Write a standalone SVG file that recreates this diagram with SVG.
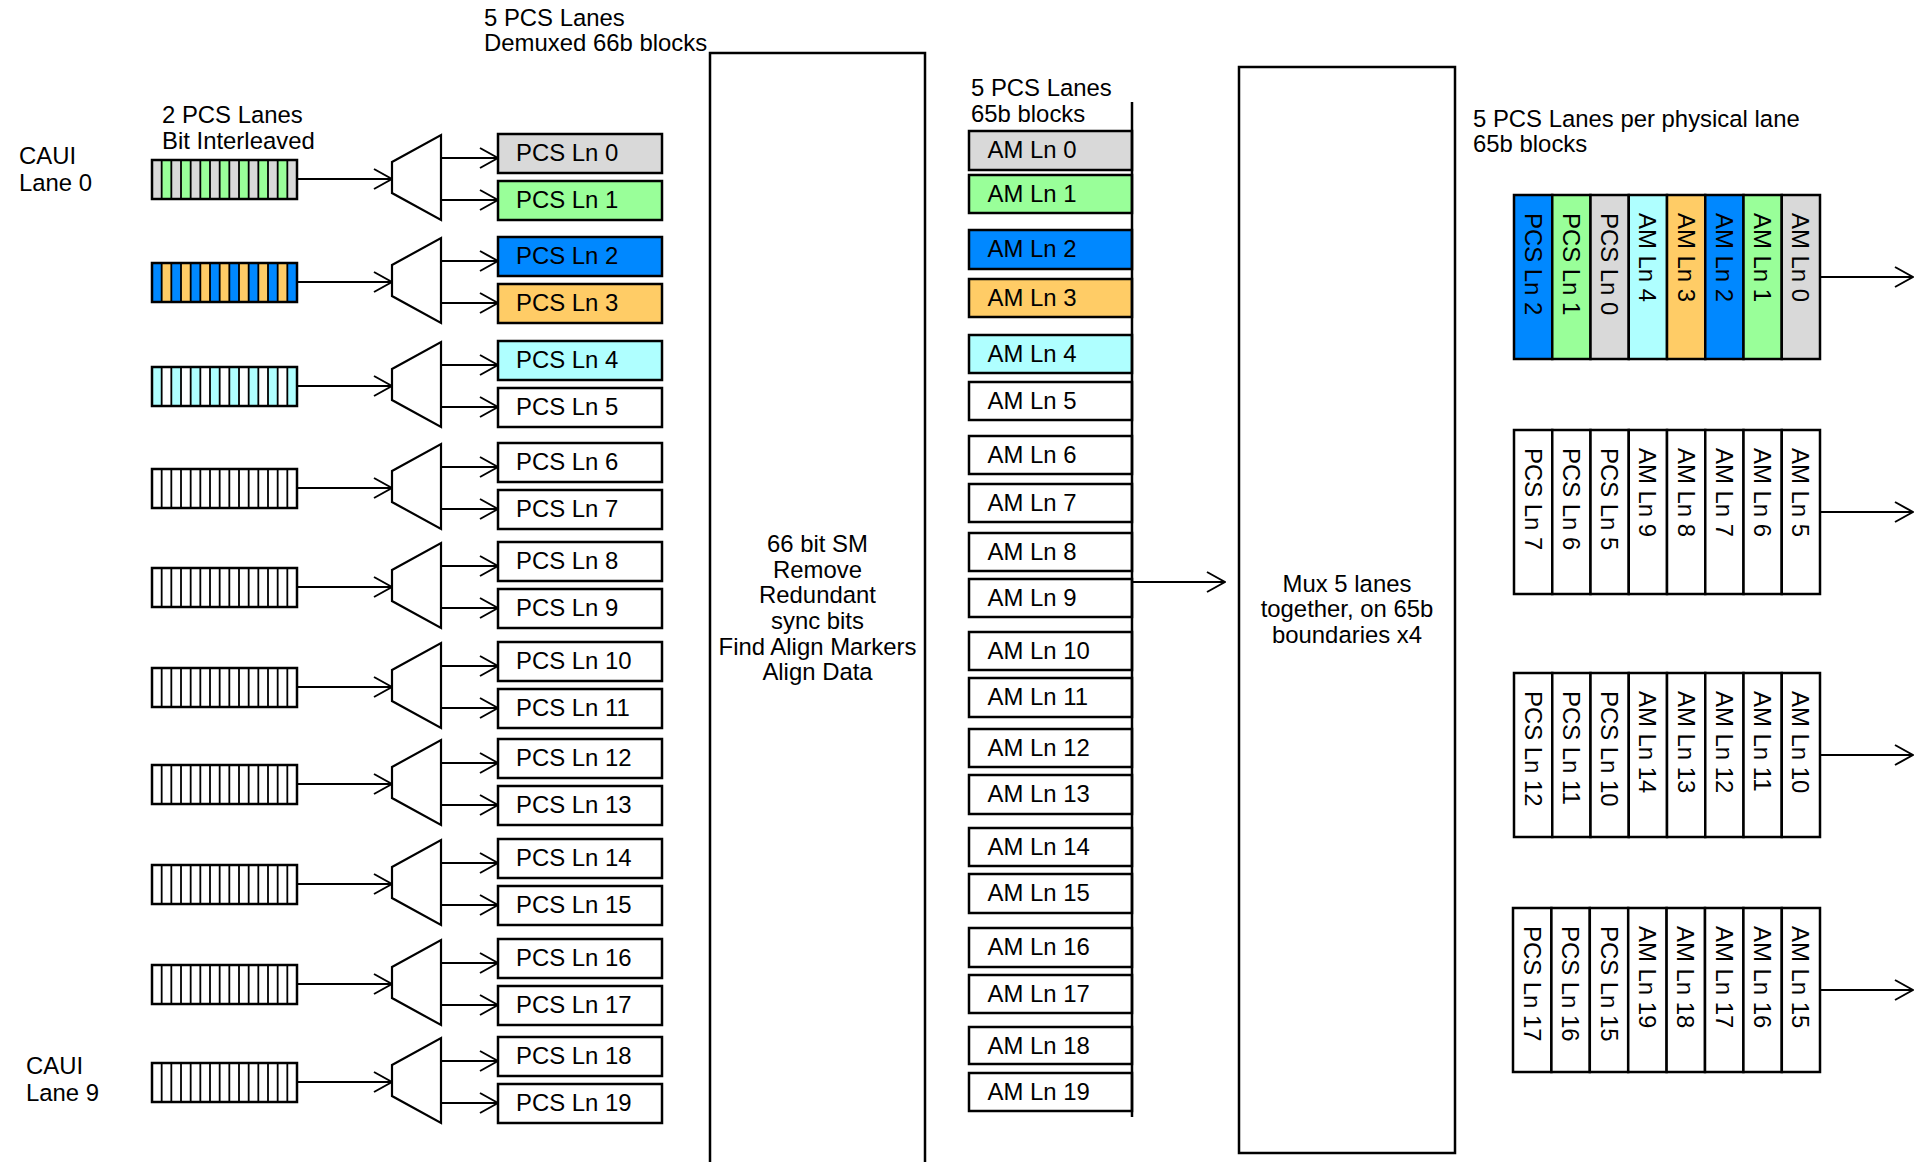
<svg xmlns="http://www.w3.org/2000/svg" xmlns:xlink="http://www.w3.org/1999/xlink" width="1915" height="1162" viewBox="0 0 1915 1162">
<style>
.t{font-family:"Liberation Sans",Arial,sans-serif;font-size:23.9px;fill:#000}
.c{text-anchor:middle}
.box{stroke:#000;stroke-width:2.5}
.ln{stroke:#000;stroke-width:2;fill:none}
.gr{fill:#D9D9D9}.gn{fill:#99FF99}.bl{fill:#0088FF}.or{fill:#FFCC66}.cy{fill:#AFFFFF}.wh{fill:#FFFFFF}
</style>
<defs>
<marker id="ah" viewBox="0 0 20 22" refX="19" refY="11" markerWidth="20" markerHeight="22" markerUnits="userSpaceOnUse" orient="auto">
<path d="M1,1 L19,11 L1,21" fill="none" stroke="#000" stroke-width="2"/>
</marker>
<pattern id="p0" patternUnits="userSpaceOnUse" width="19.333" height="39"><rect width="9.667" height="39" fill="#D9D9D9"/><rect x="9.667" width="9.667" height="39" fill="#99FF99"/></pattern>
<pattern id="p1" patternUnits="userSpaceOnUse" width="19.333" height="39"><rect width="9.667" height="39" fill="#0088FF"/><rect x="9.667" width="9.667" height="39" fill="#FFCC66"/></pattern>
<pattern id="p2" patternUnits="userSpaceOnUse" width="19.333" height="39"><rect width="9.667" height="39" fill="#AFFFFF"/><rect x="9.667" width="9.667" height="39" fill="#FFFFFF"/></pattern>
<g id="reglines">
<rect width="145" height="39" fill="none" stroke="#000" stroke-width="2.5"/>
<path d="M9.667 0V39M19.333 0V39M29 0V39M38.667 0V39M48.333 0V39M58 0V39M67.667 0V39M77.333 0V39M87 0V39M96.667 0V39M106.333 0V39M116 0V39M125.667 0V39M135.333 0V39" stroke="#000" stroke-width="1.8"/>
</g>
<polygon id="mux" points="392,28 441,1 441,86 392,59" fill="#fff" stroke="#000" stroke-width="2.2"/>
</defs>
<rect width="1915" height="1162" fill="#fff"/>

<g id="labels">
<text class="t" x="19" y="164">CAUI</text>
<text class="t" x="19" y="191">Lane 0</text>
<text class="t" x="162" y="123">2 PCS Lanes</text>
<text class="t" x="162" y="149">Bit Interleaved</text>
<text class="t" x="26" y="1074">CAUI</text>
<text class="t" x="26" y="1101">Lane 9</text>
<text class="t" x="484" y="26">5 PCS Lanes</text>
<text class="t" x="484" y="51">Demuxed 66b blocks</text>
<text class="t" x="971" y="96">5 PCS Lanes</text>
<text class="t" x="971" y="122">65b blocks</text>
<text class="t" x="1473" y="127">5 PCS Lanes per physical lane</text>
<text class="t" x="1473" y="152">65b blocks</text>
</g>

<g id="registers">
<g id="reg0" transform="translate(152,160)"><rect width="145" height="39" fill="url(#p0)"/><use xlink:href="#reglines"/></g>
<g id="reg1" transform="translate(152,263)"><rect width="145" height="39" fill="url(#p1)"/><use xlink:href="#reglines"/></g>
<g id="reg2" transform="translate(152,367)"><rect width="145" height="39" fill="url(#p2)"/><use xlink:href="#reglines"/></g>
<g id="reg3" transform="translate(152,469)"><rect width="145" height="39" fill="#fff"/><use xlink:href="#reglines"/></g>
<g id="reg4" transform="translate(152,568)"><rect width="145" height="39" fill="#fff"/><use xlink:href="#reglines"/></g>
<g id="reg5" transform="translate(152,668)"><rect width="145" height="39" fill="#fff"/><use xlink:href="#reglines"/></g>
<g id="reg6" transform="translate(152,765)"><rect width="145" height="39" fill="#fff"/><use xlink:href="#reglines"/></g>
<g id="reg7" transform="translate(152,865)"><rect width="145" height="39" fill="#fff"/><use xlink:href="#reglines"/></g>
<g id="reg8" transform="translate(152,965)"><rect width="145" height="39" fill="#fff"/><use xlink:href="#reglines"/></g>
<g id="reg9" transform="translate(152,1063)"><rect width="145" height="39" fill="#fff"/><use xlink:href="#reglines"/></g>
</g>

<g id="muxes">
<g id="mux0" transform="translate(0,134)"><use xlink:href="#mux"/></g>
<g id="mux1" transform="translate(0,237)"><use xlink:href="#mux"/></g>
<g id="mux2" transform="translate(0,341)"><use xlink:href="#mux"/></g>
<g id="mux3" transform="translate(0,443)"><use xlink:href="#mux"/></g>
<g id="mux4" transform="translate(0,542)"><use xlink:href="#mux"/></g>
<g id="mux5" transform="translate(0,642)"><use xlink:href="#mux"/></g>
<g id="mux6" transform="translate(0,739)"><use xlink:href="#mux"/></g>
<g id="mux7" transform="translate(0,839)"><use xlink:href="#mux"/></g>
<g id="mux8" transform="translate(0,939)"><use xlink:href="#mux"/></g>
<g id="mux9" transform="translate(0,1037)"><use xlink:href="#mux"/></g>
</g>

<g id="pcs-lanes">
<g id="pcs0"><rect class="box gr" x="498" y="134" width="164" height="39"/><text class="t" x="516" y="161">PCS Ln 0</text></g>
<g id="pcs1"><rect class="box gn" x="498" y="181" width="164" height="39"/><text class="t" x="516" y="208">PCS Ln 1</text></g>
<g id="pcs2"><rect class="box bl" x="498" y="237" width="164" height="39"/><text class="t" x="516" y="264">PCS Ln 2</text></g>
<g id="pcs3"><rect class="box or" x="498" y="284" width="164" height="39"/><text class="t" x="516" y="311">PCS Ln 3</text></g>
<g id="pcs4"><rect class="box cy" x="498" y="341" width="164" height="39"/><text class="t" x="516" y="368">PCS Ln 4</text></g>
<g id="pcs5"><rect class="box wh" x="498" y="388" width="164" height="39"/><text class="t" x="516" y="415">PCS Ln 5</text></g>
<g id="pcs6"><rect class="box wh" x="498" y="443" width="164" height="39"/><text class="t" x="516" y="470">PCS Ln 6</text></g>
<g id="pcs7"><rect class="box wh" x="498" y="490" width="164" height="39"/><text class="t" x="516" y="517">PCS Ln 7</text></g>
<g id="pcs8"><rect class="box wh" x="498" y="542" width="164" height="39"/><text class="t" x="516" y="569">PCS Ln 8</text></g>
<g id="pcs9"><rect class="box wh" x="498" y="589" width="164" height="39"/><text class="t" x="516" y="616">PCS Ln 9</text></g>
<g id="pcs10"><rect class="box wh" x="498" y="642" width="164" height="39"/><text class="t" x="516" y="669">PCS Ln 10</text></g>
<g id="pcs11"><rect class="box wh" x="498" y="689" width="164" height="39"/><text class="t" x="516" y="716">PCS Ln 11</text></g>
<g id="pcs12"><rect class="box wh" x="498" y="739" width="164" height="39"/><text class="t" x="516" y="766">PCS Ln 12</text></g>
<g id="pcs13"><rect class="box wh" x="498" y="786" width="164" height="39"/><text class="t" x="516" y="813">PCS Ln 13</text></g>
<g id="pcs14"><rect class="box wh" x="498" y="839" width="164" height="39"/><text class="t" x="516" y="866">PCS Ln 14</text></g>
<g id="pcs15"><rect class="box wh" x="498" y="886" width="164" height="39"/><text class="t" x="516" y="913">PCS Ln 15</text></g>
<g id="pcs16"><rect class="box wh" x="498" y="939" width="164" height="39"/><text class="t" x="516" y="966">PCS Ln 16</text></g>
<g id="pcs17"><rect class="box wh" x="498" y="986" width="164" height="39"/><text class="t" x="516" y="1013">PCS Ln 17</text></g>
<g id="pcs18"><rect class="box wh" x="498" y="1037" width="164" height="39"/><text class="t" x="516" y="1064">PCS Ln 18</text></g>
<g id="pcs19"><rect class="box wh" x="498" y="1084" width="164" height="39"/><text class="t" x="516" y="1111">PCS Ln 19</text></g>
</g>

<g id="sync-block">
<rect class="box" x="710" y="53" width="215" height="1140" fill="#fff"/>
<text class="t c" x="817.5" y="552">66 bit SM</text>
<text class="t c" x="817.5" y="578">Remove</text>
<text class="t c" x="817.5" y="603">Redundant</text>
<text class="t c" x="817.5" y="629">sync bits</text>
<text class="t c" x="817.5" y="655">Find Align Markers</text>
<text class="t c" x="817.5" y="680">Align Data</text>
</g>

<g id="am-lanes">
<g id="am0"><rect class="box gr" x="969" y="131" width="163" height="39"/><text class="t" x="987.5" y="158">AM Ln 0</text></g>
<g id="am1"><rect class="box gn" x="969" y="175" width="163" height="38"/><text class="t" x="987.5" y="202">AM Ln 1</text></g>
<g id="am2"><rect class="box bl" x="969" y="230" width="163" height="39"/><text class="t" x="987.5" y="257">AM Ln 2</text></g>
<g id="am3"><rect class="box or" x="969" y="279" width="163" height="38"/><text class="t" x="987.5" y="306">AM Ln 3</text></g>
<g id="am4"><rect class="box cy" x="969" y="335" width="163" height="38"/><text class="t" x="987.5" y="362">AM Ln 4</text></g>
<g id="am5"><rect class="box wh" x="969" y="382" width="163" height="38"/><text class="t" x="987.5" y="409">AM Ln 5</text></g>
<g id="am6"><rect class="box wh" x="969" y="436" width="163" height="38"/><text class="t" x="987.5" y="463">AM Ln 6</text></g>
<g id="am7"><rect class="box wh" x="969" y="484" width="163" height="38"/><text class="t" x="987.5" y="511">AM Ln 7</text></g>
<g id="am8"><rect class="box wh" x="969" y="533" width="163" height="38"/><text class="t" x="987.5" y="560">AM Ln 8</text></g>
<g id="am9"><rect class="box wh" x="969" y="579" width="163" height="38"/><text class="t" x="987.5" y="606">AM Ln 9</text></g>
<g id="am10"><rect class="box wh" x="969" y="632" width="163" height="38"/><text class="t" x="987.5" y="659">AM Ln 10</text></g>
<g id="am11"><rect class="box wh" x="969" y="678" width="163" height="39"/><text class="t" x="987.5" y="705">AM Ln 11</text></g>
<g id="am12"><rect class="box wh" x="969" y="729" width="163" height="38"/><text class="t" x="987.5" y="756">AM Ln 12</text></g>
<g id="am13"><rect class="box wh" x="969" y="775" width="163" height="39"/><text class="t" x="987.5" y="802">AM Ln 13</text></g>
<g id="am14"><rect class="box wh" x="969" y="828" width="163" height="38"/><text class="t" x="987.5" y="855">AM Ln 14</text></g>
<g id="am15"><rect class="box wh" x="969" y="874" width="163" height="39"/><text class="t" x="987.5" y="901">AM Ln 15</text></g>
<g id="am16"><rect class="box wh" x="969" y="928" width="163" height="39"/><text class="t" x="987.5" y="955">AM Ln 16</text></g>
<g id="am17"><rect class="box wh" x="969" y="975" width="163" height="38"/><text class="t" x="987.5" y="1002">AM Ln 17</text></g>
<g id="am18"><rect class="box wh" x="969" y="1027" width="163" height="37"/><text class="t" x="987.5" y="1054">AM Ln 18</text></g>
<g id="am19"><rect class="box wh" x="969" y="1073" width="163" height="38"/><text class="t" x="987.5" y="1100">AM Ln 19</text></g>
<line id="am-bus" x1="1132" y1="102" x2="1132" y2="1117" stroke="#000" stroke-width="2.5"/>
</g>

<g id="mux-block">
<rect class="box" x="1239" y="67" width="216" height="1086" fill="#fff"/>
<text class="t c" x="1347" y="592">Mux 5 lanes</text>
<text class="t c" x="1347" y="617">together, on 65b</text>
<text class="t c" x="1347" y="643">boundaries x4</text>
</g>

<g id="phys0" transform="translate(1514,195)">
<rect class="box bl" x="0" width="38.25" height="164"/><rect class="box gn" x="38.25" width="38.25" height="164"/><rect class="box gr" x="76.5" width="38.25" height="164"/><rect class="box cy" x="114.75" width="38.25" height="164"/><rect class="box or" x="153" width="38.25" height="164"/><rect class="box bl" x="191.25" width="38.25" height="164"/><rect class="box gn" x="229.5" width="38.25" height="164"/><rect class="box gr" x="267.75" width="38.25" height="164"/>
<text class="t" transform="translate(10.6,18) rotate(90)">PCS Ln 2</text>
<text class="t" transform="translate(48.9,18) rotate(90)">PCS Ln 1</text>
<text class="t" transform="translate(87.1,18) rotate(90)">PCS Ln 0</text>
<text class="t" transform="translate(125.4,18) rotate(90)">AM Ln 4</text>
<text class="t" transform="translate(163.6,18) rotate(90)">AM Ln 3</text>
<text class="t" transform="translate(201.9,18) rotate(90)">AM Ln 2</text>
<text class="t" transform="translate(240.1,18) rotate(90)">AM Ln 1</text>
<text class="t" transform="translate(278.4,18) rotate(90)">AM Ln 0</text>
</g>
<g id="phys1" transform="translate(1514,430)">
<rect class="box wh" x="0" width="38.25" height="164"/><rect class="box wh" x="38.25" width="38.25" height="164"/><rect class="box wh" x="76.5" width="38.25" height="164"/><rect class="box wh" x="114.75" width="38.25" height="164"/><rect class="box wh" x="153" width="38.25" height="164"/><rect class="box wh" x="191.25" width="38.25" height="164"/><rect class="box wh" x="229.5" width="38.25" height="164"/><rect class="box wh" x="267.75" width="38.25" height="164"/>
<text class="t" transform="translate(10.6,18) rotate(90)">PCS Ln 7</text>
<text class="t" transform="translate(48.9,18) rotate(90)">PCS Ln 6</text>
<text class="t" transform="translate(87.1,18) rotate(90)">PCS Ln 5</text>
<text class="t" transform="translate(125.4,18) rotate(90)">AM Ln 9</text>
<text class="t" transform="translate(163.6,18) rotate(90)">AM Ln 8</text>
<text class="t" transform="translate(201.9,18) rotate(90)">AM Ln 7</text>
<text class="t" transform="translate(240.1,18) rotate(90)">AM Ln 6</text>
<text class="t" transform="translate(278.4,18) rotate(90)">AM Ln 5</text>
</g>
<g id="phys2" transform="translate(1514,673)">
<rect class="box wh" x="0" width="38.25" height="164"/><rect class="box wh" x="38.25" width="38.25" height="164"/><rect class="box wh" x="76.5" width="38.25" height="164"/><rect class="box wh" x="114.75" width="38.25" height="164"/><rect class="box wh" x="153" width="38.25" height="164"/><rect class="box wh" x="191.25" width="38.25" height="164"/><rect class="box wh" x="229.5" width="38.25" height="164"/><rect class="box wh" x="267.75" width="38.25" height="164"/>
<text class="t" transform="translate(10.6,18) rotate(90)">PCS Ln 12</text>
<text class="t" transform="translate(48.9,18) rotate(90)">PCS Ln 11</text>
<text class="t" transform="translate(87.1,18) rotate(90)">PCS Ln 10</text>
<text class="t" transform="translate(125.4,18) rotate(90)">AM Ln 14</text>
<text class="t" transform="translate(163.6,18) rotate(90)">AM Ln 13</text>
<text class="t" transform="translate(201.9,18) rotate(90)">AM Ln 12</text>
<text class="t" transform="translate(240.1,18) rotate(90)">AM Ln 11</text>
<text class="t" transform="translate(278.4,18) rotate(90)">AM Ln 10</text>
</g>
<g id="phys3" transform="translate(1513,908)">
<rect class="box wh" x="0" width="38.4" height="164"/><rect class="box wh" x="38.4" width="38.4" height="164"/><rect class="box wh" x="76.8" width="38.4" height="164"/><rect class="box wh" x="115.2" width="38.4" height="164"/><rect class="box wh" x="153.6" width="38.4" height="164"/><rect class="box wh" x="192" width="38.4" height="164"/><rect class="box wh" x="230.4" width="38.4" height="164"/><rect class="box wh" x="268.8" width="38.2" height="164"/>
<text class="t" transform="translate(10.7,18) rotate(90)">PCS Ln 17</text>
<text class="t" transform="translate(49.1,18) rotate(90)">PCS Ln 16</text>
<text class="t" transform="translate(87.5,18) rotate(90)">PCS Ln 15</text>
<text class="t" transform="translate(125.9,18) rotate(90)">AM Ln 19</text>
<text class="t" transform="translate(164.3,18) rotate(90)">AM Ln 18</text>
<text class="t" transform="translate(202.7,18) rotate(90)">AM Ln 17</text>
<text class="t" transform="translate(241.1,18) rotate(90)">AM Ln 16</text>
<text class="t" transform="translate(279.4,18) rotate(90)">AM Ln 15</text>
</g>

<g id="connectors" class="ln" marker-end="url(#ah)">
<line x1="297" y1="179" x2="392" y2="179"/><line x1="441" y1="158" x2="498" y2="158"/><line x1="441" y1="200" x2="498" y2="200"/>
<line x1="297" y1="282" x2="392" y2="282"/><line x1="441" y1="261" x2="498" y2="261"/><line x1="441" y1="303" x2="498" y2="303"/>
<line x1="297" y1="386" x2="392" y2="386"/><line x1="441" y1="365" x2="498" y2="365"/><line x1="441" y1="407" x2="498" y2="407"/>
<line x1="297" y1="488" x2="392" y2="488"/><line x1="441" y1="467" x2="498" y2="467"/><line x1="441" y1="509" x2="498" y2="509"/>
<line x1="297" y1="587" x2="392" y2="587"/><line x1="441" y1="566" x2="498" y2="566"/><line x1="441" y1="608" x2="498" y2="608"/>
<line x1="297" y1="687" x2="392" y2="687"/><line x1="441" y1="666" x2="498" y2="666"/><line x1="441" y1="708" x2="498" y2="708"/>
<line x1="297" y1="784" x2="392" y2="784"/><line x1="441" y1="763" x2="498" y2="763"/><line x1="441" y1="805" x2="498" y2="805"/>
<line x1="297" y1="884" x2="392" y2="884"/><line x1="441" y1="863" x2="498" y2="863"/><line x1="441" y1="905" x2="498" y2="905"/>
<line x1="297" y1="984" x2="392" y2="984"/><line x1="441" y1="963" x2="498" y2="963"/><line x1="441" y1="1005" x2="498" y2="1005"/>
<line x1="297" y1="1082" x2="392" y2="1082"/><line x1="441" y1="1061" x2="498" y2="1061"/><line x1="441" y1="1103" x2="498" y2="1103"/>
<line x1="1132" y1="582" x2="1225" y2="582"/>
<line x1="1820" y1="277" x2="1913" y2="277"/>
<line x1="1820" y1="512" x2="1913" y2="512"/>
<line x1="1820" y1="755" x2="1913" y2="755"/>
<line x1="1820" y1="990" x2="1913" y2="990"/>
</g>
</svg>
